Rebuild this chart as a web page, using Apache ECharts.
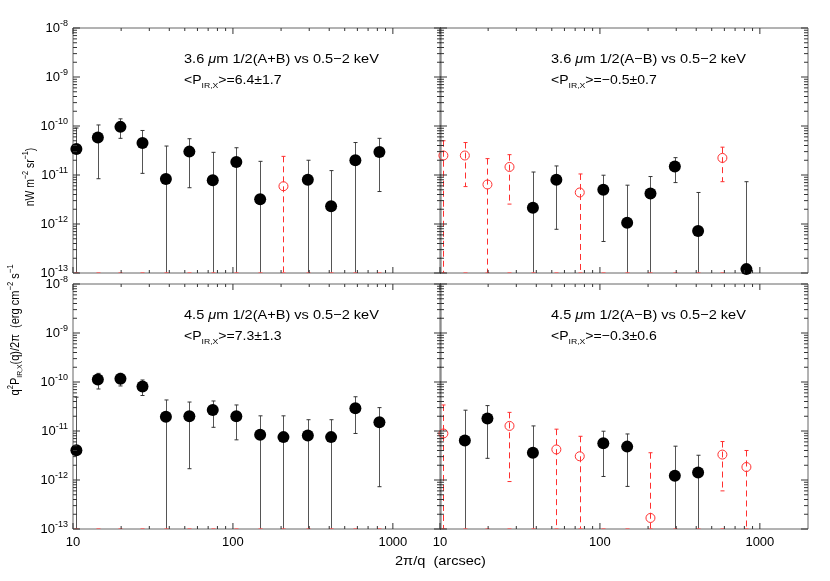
<!DOCTYPE html>
<html>
<head>
<meta charset="utf-8">
<script src="https://cdn.jsdelivr.net/npm/echarts@6/dist/echarts.min.js"></script>
<style>html,body{margin:0;padding:0;background:#fff;}#c{width:830px;height:581px;}</style>
</head>
<body>
<div id="c"></div>
<script>
// ---------- data ----------
const xArcsec = [10.5, 14.3, 19.8, 27.2, 38.1, 53.4, 74.8, 105, 148, 207, 294, 411, 583, 824];

// 3.6 um 1/2(A+B) vs 0.5-2 keV
const tlVal  = [3.4e-11, 5.8e-11, 9.6e-11, 4.5e-11, 8.3e-12, 3.0e-11, 7.8e-12, 1.85e-11, 3.2e-12, 5.9e-12, 8.0e-12, 2.3e-12, 2.0e-11, 2.95e-11];
const tlHi   = [9.1e-11, 1.05e-10, 1.4e-10, 8.1e-11, 3.9e-11, 5.5e-11, 2.9e-11, 3.6e-11, 1.9e-11, 2.4e-11, 2.0e-11, 1.23e-11, 4.6e-11, 5.6e-11];
const tlLo   = [0, 8.4e-12, 5.6e-11, 1.08e-11, 0, 5.5e-12, 0, 0, 0, 0, 0, 0, 0, 4.6e-12];
const tlOpen = [0,0,0,0,0,0,0,0,0,1,0,0,0,0];

// 3.6 um 1/2(A-B) vs 0.5-2 keV
const trVal  = [2.5e-11, 2.5e-11, 6.4e-12, 1.46e-11, 2.15e-12, 8.0e-12, 4.4e-12, 5.0e-12, 1.06e-12, 4.2e-12, 1.49e-11, 7.2e-13, 2.23e-11, 1.2e-13];
const trHi   = [5.0e-11, 4.6e-11, 2.16e-11, 2.6e-11, 1.15e-11, 1.53e-11, 1.05e-11, 9.9e-12, 6.2e-12, 9.3e-12, 2.26e-11, 4.4e-12, 3.7e-11, 7.3e-12];
const trLo   = [0, 5.8e-12, 0, 2.55e-12, 0, 7.8e-13, 0, 4.4e-13, 0, 0, 7.0e-12, 0, 7.3e-12, 0];
const trOpen = [1,1,1,1,0,0,1,0,0,0,0,0,1,0];

// 4.5 um 1/2(A+B) vs 0.5-2 keV
const blVal  = [4.04e-12, 1.13e-10, 1.17e-10, 8.1e-11, 1.95e-11, 2.0e-11, 2.67e-11, 2.0e-11, 8.4e-12, 7.5e-12, 8.1e-12, 7.5e-12, 2.9e-11, 1.51e-11];
const blHi   = [4.9e-11, 1.5e-10, 1.5e-10, 1.1e-10, 4.3e-11, 3.9e-11, 4.1e-11, 3.4e-11, 2.04e-11, 2.04e-11, 1.7e-11, 1.7e-11, 5.0e-11, 3.0e-11];
const blLo   = [0, 7.2e-11, 8.3e-11, 5.3e-11, 0, 1.7e-12, 1.19e-11, 6.6e-12, 0, 0, 0, 0, 8.9e-12, 7.3e-13];
const blOpen = [0,0,0,0,0,0,0,0,0,0,0,0,0,0];

// 4.5 um 1/2(A-B) vs 0.5-2 keV
const brVal  = [8.9e-12, 6.4e-12, 1.8e-11, 1.27e-11, 3.6e-12, 4.2e-12, 3.05e-12, 5.6e-12, 4.8e-12, 1.68e-13, 1.22e-12, 1.43e-12, 3.3e-12, 1.84e-12];
const brHi   = [3.4e-11, 2.66e-11, 3.3e-11, 2.4e-11, 1.27e-11, 1.09e-11, 7.8e-12, 9.9e-12, 8.7e-12, 3.6e-12, 4.9e-12, 3.2e-12, 6.1e-12, 4.0e-12];
const brLo   = [0, 0, 2.77e-12, 9.3e-13, 0, 0, 0, 1.18e-12, 7.4e-13, 0, 0, 0, 6.0e-13, 0];
const brOpen = [1,0,0,1,0,1,1,0,0,1,0,0,1,1];

const panelTitles = [
  '3.6 {mu|μ}m 1/2(A+B) vs 0.5−2 keV',
  '3.6 {mu|μ}m 1/2(A−B) vs 0.5−2 keV',
  '4.5 {mu|μ}m 1/2(A+B) vs 0.5−2 keV',
  '4.5 {mu|μ}m 1/2(A−B) vs 0.5−2 keV'
];
const panelMeans = ['=6.4±1.7', '=−0.5±0.7', '=7.3±1.3', '=−0.3±0.6'];

const xRange = [10, 2000];
const yRange = [1e-13, 1e-8];
const xMajorTicks = [10, 100, 1000];
const yMajorTicks = [1e-13, 1e-12, 1e-11, 1e-10, 1e-9, 1e-8];
const minorMult = [2, 3, 4, 5, 6, 7, 8, 9];

// ---------- chart ----------
const FONT = '"Liberation Sans", "DejaVu Sans", sans-serif';
const RED = '#ff3030';
const AXC = '#666';
const TICKC = '#333';

const panels = [
  {val: tlVal, hi: tlHi, lo: tlLo, open: tlOpen, left: 73,  top: 28},
  {val: trVal, hi: trHi, lo: trLo, open: trOpen, left: 440, top: 28},
  {val: blVal, hi: blHi, lo: blLo, open: blOpen, left: 73,  top: 284},
  {val: brVal, hi: brHi, lo: brLo, open: brOpen, left: 440, top: 284}
];
const GW = 368, GH = 245;

const grids = [], xAxes = [], yAxes = [], series = [], graphics = [];

function errRender(params, api) {
  const cs = params.coordSys;
  const bottom = cs.y + cs.height;
  const x = api.value(0), lo = api.value(1), hi = api.value(2), open = api.value(3);
  const pt = api.coord([x, hi]);
  const px = Math.round(pt[0]) + 0.5;
  const yTop = Math.max(pt[1], cs.y);
  const yLo = lo > 0 ? Math.min(api.coord([x, lo])[1], bottom) : bottom;
  const color = open ? RED : '#555';
  const children = [
    {type: 'line', shape: {x1: px, y1: yTop, x2: px, y2: yLo}, style: {stroke: color, lineWidth: 1, lineDash: open ? [6, 4] : null}},
    {type: 'line', shape: {x1: px - 2, y1: yTop, x2: px + 2, y2: yTop}, style: {stroke: open ? RED : '#333', lineWidth: 1}}
  ];
  if (lo > 0) children.push({type: 'line', shape: {x1: px - 2, y1: yLo, x2: px + 2, y2: yLo}, style: {stroke: open ? RED : '#333', lineWidth: 1}});
  children.push({type: 'line', shape: {x1: px - 2, y1: bottom - 0.5, x2: px + 2, y2: bottom - 0.5}, style: {stroke: 'rgba(255,90,90,0.7)', lineWidth: 1}});
  return {type: 'group', children: children};
}

// frame ticks as tiny rect symbols placed through the axes (major + log minor, all four sides)
function tickData() {
  const d = [];
  yMajorTicks.forEach(function (yv, k) {
    const vals = [[yv, 7]];
    if (k < yMajorTicks.length - 1) minorMult.forEach(function (m) { vals.push([yv * m, 4]); });
    vals.forEach(function (v) {
      d.push({value: [xRange[0], v[0]], symbolSize: [v[1], 1], symbolOffset: [v[1] / 2, 0]});
      d.push({value: [xRange[1], v[0]], symbolSize: [v[1], 1], symbolOffset: [-v[1] / 2, 0]});
    });
  });
  xMajorTicks.forEach(function (xv) {
    const vals = [[xv, 6]];
    minorMult.forEach(function (m) { if (xv * m < xRange[1]) vals.push([xv * m, 3]); });
    vals.forEach(function (v) {
      d.push({value: [v[0], yRange[0]], symbolSize: [1, v[1]], symbolOffset: [0, -v[1] / 2]});
      d.push({value: [v[0], yRange[1]], symbolSize: [1, v[1]], symbolOffset: [0, v[1] / 2]});
    });
  });
  return d;
}

const richBase = {
  b: {fontSize: 13, fontFamily: FONT, color: '#000', lineHeight: 18},
  s: {fontSize: 9, fontFamily: FONT, color: '#000', verticalAlign: 'top'},
  sub: {fontSize: 8, fontFamily: FONT, color: '#000', verticalAlign: 'bottom'},
  mu: {fontSize: 13, fontFamily: FONT, color: '#000', fontStyle: 'italic', lineHeight: 18}
};

panels.forEach(function (p, i) {
  grids.push({left: p.left, top: p.top, width: GW, height: GH, show: true, borderColor: AXC, borderWidth: 1, backgroundColor: 'transparent'});
  const isBottom = i >= 2, isLeft = (i % 2 === 0);
  xAxes.push({
    type: 'log', logBase: 10, gridIndex: i, min: xRange[0], max: xRange[1],
    axisLine: {show: false}, axisTick: {show: false}, splitLine: {show: false},
    axisLabel: {
      show: isBottom, margin: 7, fontSize: 13, fontFamily: FONT, color: '#000',
      showMinLabel: true, showMaxLabel: false,
      formatter: function (v) {
        const e = Math.log10(v);
        return Math.abs(e - Math.round(e)) < 1e-6 ? String(Math.round(v)) : '';
      }
    }
  });
  yAxes.push({
    type: 'log', logBase: 10, gridIndex: i, min: yRange[0], max: yRange[1],
    axisLine: {show: false}, axisTick: {show: false}, splitLine: {show: false},
    axisLabel: {
      show: isLeft, margin: 5, showMinLabel: true, showMaxLabel: true,
      formatter: function (v) {
        const e = Math.round(Math.log10(v));
        return '{b|10}{s|' + e + '}';
      },
      rich: richBase
    }
  });
  series.push({
    type: 'scatter', xAxisIndex: i, yAxisIndex: i, symbol: 'rect', clip: false, silent: true, z: 6,
    itemStyle: {color: TICKC, opacity: 1},
    data: tickData()
  });
  series.push({
    type: 'custom', xAxisIndex: i, yAxisIndex: i, renderItem: errRender, silent: true, z: 3,
    data: xArcsec.map(function (x, k) { return [x, p.lo[k], p.hi[k], p.open[k], p.val[k]]; }),
    encode: {x: 0, y: 4}
  });
  series.push({
    type: 'scatter', xAxisIndex: i, yAxisIndex: i, symbol: 'circle', symbolSize: 12, z: 4,
    itemStyle: {color: '#000', opacity: 1}, silent: true,
    data: xArcsec.map(function (x, k) { return p.open[k] ? null : [x, p.val[k]]; }).filter(Boolean)
  });
  series.push({
    type: 'scatter', xAxisIndex: i, yAxisIndex: i, symbol: 'circle', symbolSize: 9, z: 4,
    itemStyle: {color: 'rgba(0,0,0,0)', borderColor: RED, borderWidth: 1, opacity: 1}, silent: true,
    data: xArcsec.map(function (x, k) { return p.open[k] ? [x, p.val[k]] : null; }).filter(Boolean)
  });
  graphics.push({
    type: 'text', left: p.left + 111, top: p.top + 25, scaleX: 1.12,
    style: {text: panelTitles[i].replace(/^([^{]*)/, '{b|$1}').replace(/\}([^{]+)$/, '}{b|$1}'), rich: richBase}
  });
  graphics.push({
    type: 'text', left: p.left + 111, top: p.top + 46, scaleX: 1.08,
    style: {text: '{b|<P}{sub|IR,X}{b|>' + panelMeans[i] + '}', rich: richBase}
  });
});

graphics.push({
  type: 'text', left: 395, top: 555, scaleX: 1.12,
  style: {text: '2π/q  (arcsec)', fontSize: 13, fontFamily: FONT, fill: '#000'}
});
graphics.push({
  type: 'text', x: 15, y: 330, rotation: Math.PI / 2, scaleX: 0.85,
  style: {text: '{b|q}{s|2}{b|P}{sub|IR,X}{b|(q)/2π  (erg cm}{s|−2}{b| s}{s|−1}', rich: richBase, align: 'center', verticalAlign: 'middle'}
});
graphics.push({
  type: 'text', x: 30, y: 177, rotation: Math.PI / 2, scaleX: 0.8,
  style: {text: '{b|nW m}{s|−2}{b| sr}{s|−1}{b|)}', rich: richBase, align: 'center', verticalAlign: 'middle'}
});

const chart = echarts.init(document.getElementById('c'), null, {renderer: 'canvas'});
chart.setOption({
  animation: false,
  backgroundColor: '#fff',
  grid: grids, xAxis: xAxes, yAxis: yAxes, series: series, graphic: graphics
});
</script>
</body>
</html>
